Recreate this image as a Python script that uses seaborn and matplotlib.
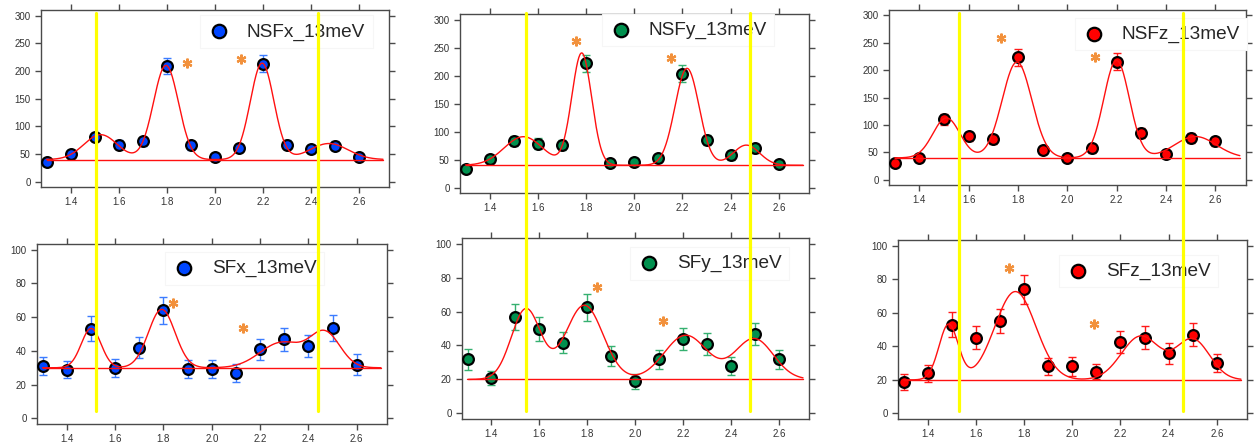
import numpy as np
import pandas as pd
import seaborn as sns
import matplotlib
matplotlib.use("Agg")
import matplotlib.pyplot as plt
from matplotlib.lines import Line2D

# ---- measured intensities (Q scan at 13 meV) ----
q_values = [1.3, 1.4, 1.5, 1.6, 1.7, 1.8, 1.9, 2.0, 2.1, 2.2, 2.3, 2.4, 2.5, 2.6]

nsfx_counts = [35, 50, 81, 67, 73, 209, 66, 44, 61, 213, 67, 59, 65, 44]
nsfx_err = [6, 7, 6.5, 8, 8.5, 14, 8, 6.5, 8, 15, 8, 7.5, 8, 6.5]
sfx_counts = [31.1, 28.9, 53, 29.7, 41.9, 64, 29.5, 29.5, 27, 41, 46.9, 42.9, 53.7, 31.9]
sfx_err = [5.4, 5.2, 7.4, 5.3, 6.3, 8.0, 5.3, 5.3, 5.2, 6.3, 6.8, 6.5, 7.6, 6.0]

nsfy_counts = [33.8, 51, 83, 78.8, 75.9, 221.7, 43.3, 45.6, 52.2, 203.3, 84.8, 57.5, 70, 42.7]
nsfy_err = [6, 7, 9, 9, 8.5, 15, 6.5, 6.5, 7, 15.5, 9, 7.5, 8, 6.5]
sfy_counts = [31.8, 20.8, 56.7, 49.6, 41.7, 62.6, 33.6, 18.8, 31.8, 43.9, 40.7, 27.9, 47, 31.8]
sfy_err = [6.0, 4.2, 7.7, 7.0, 6.4, 8.0, 5.8, 4.5, 5.7, 6.6, 6.4, 5.2, 6.5, 5.8]

nsfz_counts = [29.8, 39, 110.8, 79.1, 73.6, 223.4, 53.6, 40.2, 57.2, 215.5, 84.6, 46.3, 76.1, 70.6]
nsfz_err = [5.5, 6.2, 10, 9, 8.5, 15, 7.3, 6.3, 7.5, 15.5, 9.2, 6.8, 8.7, 8.4]
sfz_counts = [18.9, 23.9, 52.9, 45, 55, 74, 28, 28, 24.9, 42.8, 45, 35.9, 46.9, 30]
sfz_err = [4.7, 4.9, 7.3, 6.8, 7.1, 8.6, 5.3, 5.4, 4.4, 6.6, 6.8, 6.2, 6.9, 5.3]

# ---- Gaussian fit results: background + four peaks ----
nsfx_bg, nsfx_cen, nsfx_amp, nsfx_sig = 40, [1.525, 1.797, 2.197, 2.475], [45, 170, 174, 29], [0.07, 0.052, 0.049, 0.08]
sfx_bg, sfx_cen, sfx_amp, sfx_sig = 30, [1.501, 1.793, 2.29, 2.47], [23.3, 34.6, 15, 20], [0.041, 0.055, 0.09, 0.062]
nsfy_bg, nsfy_cen, nsfy_amp, nsfy_sig = 40, [1.54, 1.782, 2.219, 2.465], [51, 200, 173, 36], [0.08, 0.041, 0.05, 0.055]
sfy_bg, sfy_cen, sfy_amp, sfy_sig = 20, [1.544, 1.7875, 2.211, 2.496], [41.5, 43.7, 26, 24], [0.061, 0.078, 0.09, 0.08]
nsfz_bg, nsfz_cen, nsfz_amp, nsfz_sig = 40, [1.51, 1.796, 2.2, 2.52], [73, 175, 178, 39], [0.055, 0.06, 0.052, 0.085]
sfz_bg, sfz_cen, sfz_amp, sfz_sig = 20, [1.487, 1.764, 2.284, 2.5], [33, 52.6, 26, 24], [0.04, 0.085, 0.08, 0.07]

# ---- peak markers (*) ----
nsfx_star_x, nsfx_star_y = [1.884, 2.110], [214, 222]
sfx_star_x, sfx_star_y = [1.841, 2.128], [68.5, 53.3]
nsfy_star_x, nsfy_star_y = [1.758, 2.154], [261, 232]
sfy_star_x, sfy_star_y = [1.839, 2.114], [74.3, 54.5]
nsfz_star_x, nsfz_star_y = [1.731, 2.112], [258, 224.6]
sfz_star_x, sfz_star_y = [1.737, 2.091], [86.8, 53.5]

# ---- cut positions (Q) for the x, y, z columns ----
cut_x = [1.505, 2.431]
cut_y = [1.551, 2.482]
cut_z = [1.559, 2.469]

labels = ["NSFx_13meV", "SFx_13meV", "NSFy_13meV", "SFy_13meV", "NSFz_13meV", "SFz_13meV"]

sns.set_theme(style="white")
plt.rcParams["font.family"] = ["Liberation Sans", "DejaVu Sans"]

fig = plt.figure(figsize=(12.56, 4.48), dpi=100)
W, H = 1256, 448


def add_axes_px(left, right, top, bottom):
    return fig.add_axes([left / W, 1 - bottom / H, (right - left) / W, (bottom - top) / H])


ax_boxes = [
    (41, 389, 10, 187), (37, 387, 244, 424),
    (460, 809, 14, 193), (462, 809, 238, 419),
    (889, 1246, 10, 185), (898, 1247, 240, 419),
]
axes = [add_axes_px(*b) for b in ax_boxes]

panels = [
    (nsfx_counts, nsfx_err, nsfx_bg, nsfx_cen, nsfx_amp, nsfx_sig, nsfx_star_x, nsfx_star_y),
    (sfx_counts, sfx_err, sfx_bg, sfx_cen, sfx_amp, sfx_sig, sfx_star_x, sfx_star_y),
    (nsfy_counts, nsfy_err, nsfy_bg, nsfy_cen, nsfy_amp, nsfy_sig, nsfy_star_x, nsfy_star_y),
    (sfy_counts, sfy_err, sfy_bg, sfy_cen, sfy_amp, sfy_sig, sfy_star_x, sfy_star_y),
    (nsfz_counts, nsfz_err, nsfz_bg, nsfz_cen, nsfz_amp, nsfz_sig, nsfz_star_x, nsfz_star_y),
    (sfz_counts, sfz_err, sfz_bg, sfz_cen, sfz_amp, sfz_sig, sfz_star_x, sfz_star_y),
]

face_colors = ["#0046FF", "#0046FF", "#00904E", "#00904E", "#FF0000", "#FF0000"]
err_colors = ["#3C7CFF", "#3C7CFF", "#35B070", "#35B070", "#FF1A1A", "#FF1A1A"]
legend_anchor = [(0.457, 0.877), (0.366, 0.865), (0.406, 0.911),
                 (0.485, 0.860), (0.521, 0.863), (0.462, 0.827)]
top_row = [True, False, True, False, True, False]

q_fine = np.linspace(1.3, 2.7, 600)

for i, ax in enumerate(axes):
    counts, err, bg, cen, amp, sig, sx, sy = panels[i]
    df = pd.DataFrame({"Q": q_values, "I": counts, "dI": err})

    # fitted model curve
    model = np.full_like(q_fine, float(bg))
    for c, a, s in zip(cen, amp, sig):
        model += a * np.exp(-(q_fine - c) ** 2 / (2 * s ** 2))
    fit_df = pd.DataFrame({"Q": q_fine, "I": model})

    ax.errorbar(df["Q"], df["I"], yerr=df["dI"], fmt="none", ecolor=err_colors[i],
                elinewidth=1.0, capsize=3, capthick=1.0, zorder=2)
    sns.scatterplot(data=df, x="Q", y="I", ax=ax, color=face_colors[i], s=60,
                    edgecolor="black", linewidth=1.6, zorder=3, label=labels[i])
    sns.lineplot(data=fit_df, x="Q", y="I", ax=ax, color="#FF1010", linewidth=1.0,
                 zorder=4, legend=False)
    ax.plot([1.3, 2.7], [bg, bg], color="#FF1010", linewidth=1.0, zorder=4)
    ax.plot(sx, sy, linestyle="none", marker=(6, 2, 0), markersize=7,
            markeredgewidth=1.6, color="#F2913C", zorder=5)

    ax.set_xlim(1.277, 2.725)
    if top_row[i]:
        ax.set_ylim(-9.5, 310)
        ax.set_yticks(np.arange(0, 301, 50))
    else:
        ax.set_ylim(-3.3, 103.3)
        ax.set_yticks(np.arange(0, 101, 20))
    ax.set_xticks([1.4, 1.6, 1.8, 2.0, 2.2, 2.4, 2.6])
    ax.set_xticklabels(["1.4", "1.6", "1.8", "2.0", "2.2", "2.4", "2.6"])
    ax.set_xlabel("")
    ax.set_ylabel("")
    ax.tick_params(axis="both", which="major", direction="out", length=4.5, width=1.0,
                   color="#4a4a4a", labelsize=7, labelcolor="#333333",
                   top=True, right=True, bottom=True, left=True, pad=3)
    for sp in ax.spines.values():
        sp.set_color("#4a4a4a")
        sp.set_linewidth(1.0)
        sp.set_visible(True)

    leg = ax.legend(loc="center left", bbox_to_anchor=legend_anchor[i], frameon=True,
                    fancybox=False, edgecolor="#f6f6f6", framealpha=1.0,
                    fontsize=13.7, handlelength=1.2, handletextpad=0.85,
                    markerscale=1.25, borderpad=0.4, borderaxespad=0.0)
    leg.get_frame().set_linewidth(0.8)

# vertical cut guides spanning both rows of each column
for top_ax, cuts in [(axes[0], cut_x), (axes[2], cut_y), (axes[4], cut_z)]:
    for q in cuts:
        xd, _ = top_ax.transData.transform((q, 0))
        xf = fig.transFigure.inverted().transform((xd, 0))[0]
        fig.add_artist(Line2D([xf, xf], [1 - 12.7 / H, 1 - 411 / H],
                              transform=fig.transFigure, color="#FFFF00",
                              linewidth=2.3, zorder=10))

fig.savefig("out.png", dpi=100)
